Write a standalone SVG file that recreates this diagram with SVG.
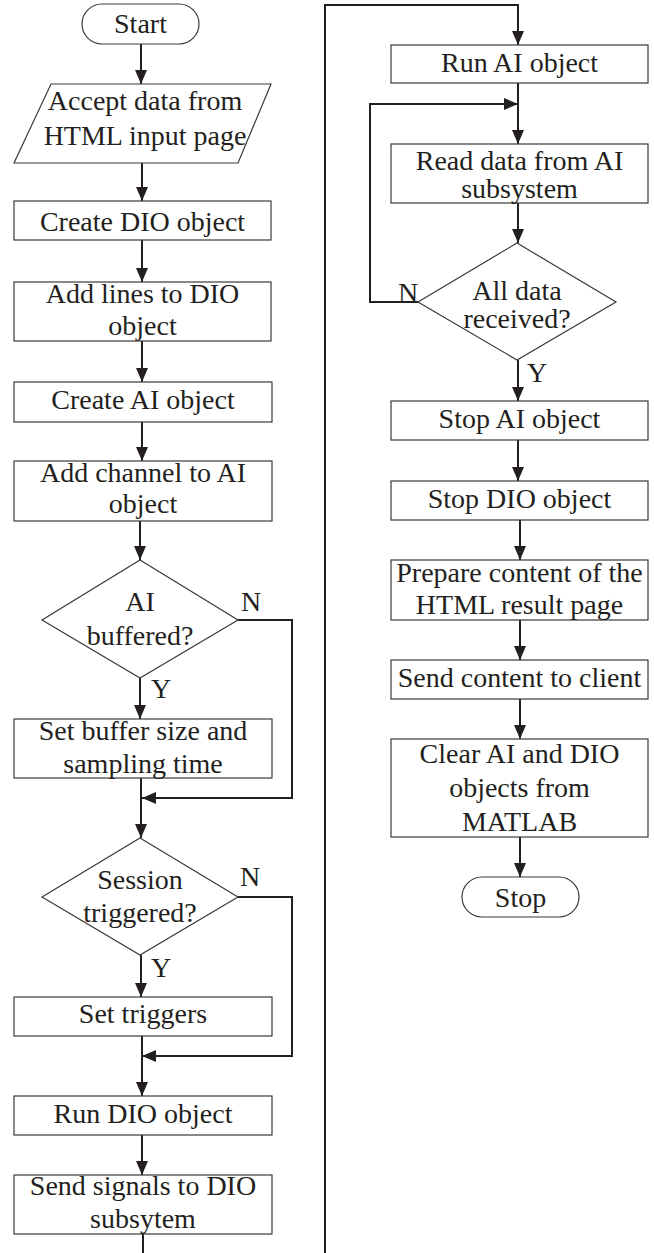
<svg xmlns="http://www.w3.org/2000/svg" width="654" height="1253" viewBox="0 0 654 1253">
  <defs>
    <marker id="arrow" markerUnits="userSpaceOnUse" markerWidth="14" markerHeight="12" refX="14" refY="6" orient="auto">
      <path d="M0,0 L14,6 L0,12 z" fill="#231f20"/>
    </marker>
    <style>
      .shape { fill: #ffffff; stroke: #3a3a3a; stroke-width: 1.2; }
      .label { font-family: "Liberation Serif", "Times New Roman", serif; font-size: 28px; fill: #231f20; text-anchor: middle; }
      .yn { font-family: "Liberation Serif", "Times New Roman", serif; font-size: 28px; fill: #231f20; }
      .flow { fill: none; stroke: #231f20; stroke-width: 2; }
      .arrow { marker-end: url(#arrow); }
    </style>
  </defs>

  <rect width="654" height="1253" fill="#ffffff"/>

  <!-- connectors -->
  <g id="connectors">
    <path class="flow arrow" d="M141,44 V84"/>
    <path class="flow arrow" d="M142,163 V201"/>
    <path class="flow arrow" d="M142,240 V282"/>
    <path class="flow arrow" d="M142,341 V382"/>
    <path class="flow arrow" d="M142,422 V461"/>
    <path class="flow arrow" d="M140,521 V560"/>
    <path class="flow arrow" d="M140,678 V719"/>
    <path class="flow arrow" d="M238,620 H292 V798 H142"/>
    <path class="flow arrow" d="M141,778 V838"/>
    <path class="flow arrow" d="M141,955 V997"/>
    <path class="flow arrow" d="M238,897 H292 V1056 H142"/>
    <path class="flow arrow" d="M142,1036 V1096"/>
    <path class="flow arrow" d="M142,1135 V1175"/>
    <path class="flow" d="M143,1234 V1253"/>
    <path class="flow arrow" d="M325,1253 V5 H518 V45"/>
    <path class="flow arrow" d="M518,83 V144"/>
    <path class="flow arrow" d="M418,302 H370 V104 H518"/>
    <path class="flow arrow" d="M518,203 V243"/>
    <path class="flow arrow" d="M518,360 V401"/>
    <path class="flow arrow" d="M518,440 V481"/>
    <path class="flow arrow" d="M520,520 V560"/>
    <path class="flow arrow" d="M520,620 V660"/>
    <path class="flow arrow" d="M520,699 V739"/>
    <path class="flow arrow" d="M520,837 V877"/>
  </g>

  <!-- decision labels -->
  <g id="branch-labels">
    <text class="yn" x="241" y="611">N</text>
    <text class="yn" x="151" y="698">Y</text>
    <text class="yn" x="240" y="886">N</text>
    <text class="yn" x="151" y="977">Y</text>
    <text class="yn" x="398" y="302">N</text>
    <text class="yn" x="527" y="382">Y</text>
  </g>

  <!-- left column -->
  <g id="start">
    <rect class="shape" x="82" y="4" width="117" height="40" rx="20" ry="20"/>
    <text class="label" x="140.5" y="33">Start</text>
  </g>
  <g id="accept-data">
    <polygon class="shape" points="51,84 271,84 238,163 14,163"/>
    <text class="label" x="145" y="110">Accept data from</text>
    <text class="label" x="145" y="145">HTML input page</text>
  </g>
  <g id="create-dio">
    <rect class="shape" x="14" y="201" width="257" height="39"/>
    <text class="label" x="142.5" y="231">Create DIO object</text>
  </g>
  <g id="add-lines">
    <rect class="shape" x="14" y="282" width="257" height="59"/>
    <text class="label" x="142.5" y="303">Add lines to DIO</text>
    <text class="label" x="142.5" y="335">object</text>
  </g>
  <g id="create-ai">
    <rect class="shape" x="14" y="382" width="258" height="40"/>
    <text class="label" x="143" y="409">Create AI object</text>
  </g>
  <g id="add-channel">
    <rect class="shape" x="14" y="461" width="258" height="60"/>
    <text class="label" x="143" y="482">Add channel to AI</text>
    <text class="label" x="143" y="513">object</text>
  </g>
  <g id="ai-buffered">
    <polygon class="shape" points="140,560 238,620 140,678 42,620"/>
    <text class="label" x="140" y="611">AI</text>
    <text class="label" x="140" y="645">buffered?</text>
  </g>
  <g id="set-buffer">
    <rect class="shape" x="14" y="719" width="258" height="59"/>
    <text class="label" x="143" y="740">Set buffer size and</text>
    <text class="label" x="143" y="773">sampling time</text>
  </g>
  <g id="session-triggered">
    <polygon class="shape" points="140,838 238,897 140,955 42,897"/>
    <text class="label" x="140" y="889">Session</text>
    <text class="label" x="140" y="922">triggered?</text>
  </g>
  <g id="set-triggers">
    <rect class="shape" x="14" y="997" width="258" height="39"/>
    <text class="label" x="143" y="1023">Set triggers</text>
  </g>
  <g id="run-dio">
    <rect class="shape" x="14" y="1096" width="258" height="39"/>
    <text class="label" x="143" y="1123">Run DIO object</text>
  </g>
  <g id="send-signals">
    <rect class="shape" x="14" y="1175" width="258" height="59"/>
    <text class="label" x="143" y="1195">Send signals to DIO</text>
    <text class="label" x="143" y="1228">subsytem</text>
  </g>

  <!-- right column -->
  <g id="run-ai">
    <rect class="shape" x="391" y="45" width="257" height="38"/>
    <text class="label" x="519.5" y="72">Run AI object</text>
  </g>
  <g id="read-data">
    <rect class="shape" x="391" y="144" width="257" height="59"/>
    <text class="label" x="519.5" y="170">Read data from AI</text>
    <text class="label" x="519.5" y="198">subsystem</text>
  </g>
  <g id="all-received">
    <polygon class="shape" points="517,243 616,302 517,360 418,302"/>
    <text class="label" x="517" y="300">All data</text>
    <text class="label" x="517" y="328">received?</text>
  </g>
  <g id="stop-ai">
    <rect class="shape" x="391" y="401" width="257" height="39"/>
    <text class="label" x="519.5" y="428">Stop AI object</text>
  </g>
  <g id="stop-dio">
    <rect class="shape" x="391" y="481" width="257" height="39"/>
    <text class="label" x="519.5" y="508">Stop DIO object</text>
  </g>
  <g id="prepare-content">
    <rect class="shape" x="391" y="560" width="257" height="60"/>
    <text class="label" x="519.5" y="582">Prepare content of the</text>
    <text class="label" x="519.5" y="614">HTML result page</text>
  </g>
  <g id="send-content">
    <rect class="shape" x="391" y="660" width="257" height="39"/>
    <text class="label" x="519.5" y="687">Send content to client</text>
  </g>
  <g id="clear-objects">
    <rect class="shape" x="391" y="739" width="257" height="98"/>
    <text class="label" x="519.5" y="763">Clear AI and DIO</text>
    <text class="label" x="519.5" y="797">objects from</text>
    <text class="label" x="519.5" y="831">MATLAB</text>
  </g>
  <g id="stop">
    <rect class="shape" x="462" y="877" width="117" height="40" rx="20" ry="20"/>
    <text class="label" x="520.5" y="907">Stop</text>
  </g>
</svg>
